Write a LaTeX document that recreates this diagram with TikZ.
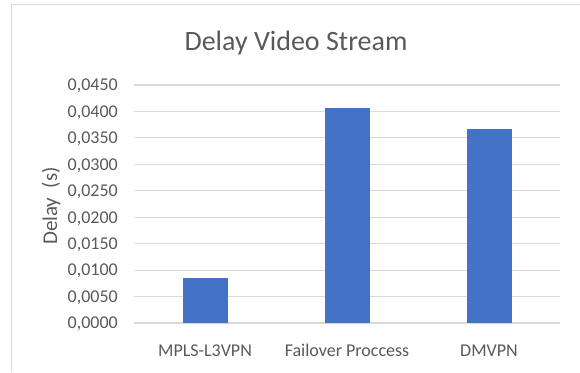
\documentclass[tikz,border=0pt]{standalone}
\usepackage{fontspec}
\setmainfont{Carlito}
\usetikzlibrary{positioning}
\definecolor{barblue}{HTML}{4472C4}
\definecolor{gridgray}{HTML}{D9D9D9}
\definecolor{textgray}{HTML}{595959}
\tikzset{
  chartframe/.style={
    draw=gridgray,
    line width=1pt
  },
  gridline/.style={
    draw=gridgray,
    line width=1.2pt
  },
  bar/.style={
    fill=barblue,
    draw=none
  },
  ticklabel/.style={
    text=textgray,
    anchor=east,
    inner sep=0pt,
    text depth=0pt,
    font=\fontsize{18}{18}\selectfont
  },
  catlabel/.style={
    ticklabel,
    anchor=base
  },
  axislabel/.style={
    catlabel,
    rotate=90,
    font=\fontsize{21}{21}\selectfont
  },
  charttitle/.style={
    text=textgray,
    anchor=base,
    inner sep=0pt,
    font=\fontsize{28}{28}\selectfont
  }
}

\begin{document}
\begin{tikzpicture}[x=1pt, y=-1pt]
  \useasboundingbox (0,0) rectangle (580,372);
  \draw[chartframe] (11,372) -- (11,4) -- (580,4);

  \node[charttitle] (title) at (296,50) {Delay Video Stream};

  % gridlines and values
  \foreach \i/\lab in {0/0000,1/0050,2/0100,3/0150,4/0200,5/0250,6/0300,7/0350,8/0400,9/0450}{
    \draw[gridline] (134,323-\i*26.444) -- (560,323-\i*26.444);
    \node[ticklabel] (tick\i) at (118,323-\i*26.444) {0,\lab};
  }
  \node[axislabel] (ylab) at (57,206) {Delay\ \ (s)};

  % bars
  \foreach \x/\val/\name/\txt in {205/0.0085/mpls/MPLS-L3VPN,
                                  347/0.0406/fail/Failover Proccess,
                                  489/0.0366/dmvpn/DMVPN}{
    \fill[bar] (\x-22.5,323) rectangle (\x+22.5,323-\val*5288.9);
    \node[catlabel] (cat\name) at (\x,356) {\txt};
  }
\end{tikzpicture}
\end{document}
